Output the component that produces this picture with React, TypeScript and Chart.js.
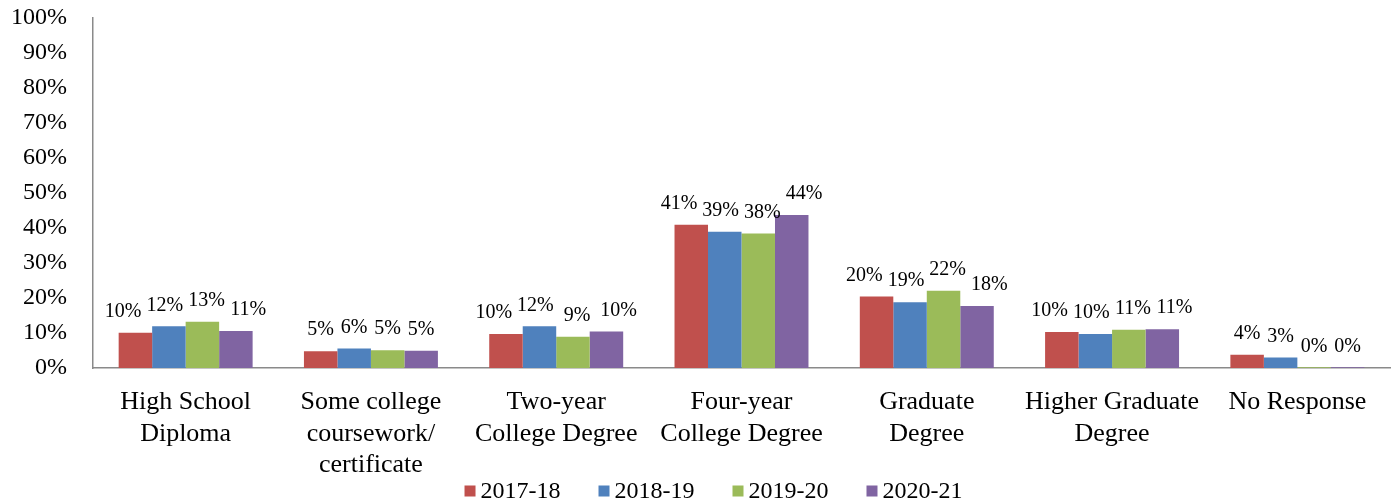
import React, { useEffect, useRef } from "react";
import { Chart, registerables } from "chart.js";

Chart.register(...registerables);

const categories: string[][] = [
  ["High School", "Diploma"],
  ["Some college", "coursework/", "certificate"],
  ["Two-year", "College Degree"],
  ["Four-year", "College Degree"],
  ["Graduate", "Degree"],
  ["Higher Graduate", "Degree"],
  ["No Response"],
];

const seriesNames = ["2017-18", "2018-19", "2019-20", "2020-21"];
const seriesColors = ["#C0504D", "#4F81BD", "#9BBB59", "#8064A2"];

const values2017_18 = [10.1, 4.8, 9.7, 40.9, 20.4, 10.3, 3.8];
const values2018_19 = [11.9, 5.6, 11.9, 38.9, 18.8, 9.7, 3.0];
const values2019_20 = [13.2, 5.1, 8.9, 38.4, 22.1, 10.9, 0.2];
const values2020_21 = [10.6, 4.9, 10.4, 43.7, 17.7, 11.1, 0.2];

const yTicks = [0, 10, 20, 30, 40, 50, 60, 70, 80, 90, 100];

const FONT = '"Liberation Serif", "Times New Roman", serif';

const dataLabelPlugin = {
  id: "groupDataLabels",
  afterDatasetsDraw(chart: any) {
    const ctx = chart.ctx;
    ctx.save();
    ctx.font = `20px ${FONT}`;
    ctx.fillStyle = "#000";
    ctx.textAlign = "center";
    ctx.textBaseline = "middle";
    const n = chart.data.labels.length;
    const dsCount = chart.data.datasets.length;
    for (let i = 0; i < n; i++) {
      const bars: any[] = [];
      const texts: string[] = [];
      for (let d = 0; d < dsCount; d++) {
        const meta = chart.getDatasetMeta(d);
        bars.push(meta.data[i]);
        texts.push(Math.round(chart.data.datasets[d].data[i]) + "%");
      }
      const maxW = Math.max(...texts.map((t) => ctx.measureText(t).width));
      const barSpacing = bars.length > 1 ? bars[1].x - bars[0].x : 0;
      const spacing = Math.max(barSpacing, maxW + 5);
      const center = bars.reduce((s, b) => s + b.x, 0) / bars.length;
      bars.forEach((b, k) => {
        const x = center + (k - (bars.length - 1) / 2) * spacing;
        ctx.fillText(texts[k], x, b.y - 21);
      });
    }
    ctx.restore();
  },
};

const legendPlugin = {
  id: "customLegend",
  afterDraw(chart: any) {
    const ctx = chart.ctx;
    ctx.save();
    ctx.font = `24px ${FONT}`;
    ctx.textBaseline = "middle";
    ctx.textAlign = "left";
    const box = 11;
    const gapText = 5;
    const gapItem = 38;
    const widths = chart.data.datasets.map(
      (ds: any) => box + gapText + ctx.measureText(ds.label).width
    );
    const total =
      widths.reduce((a: number, b: number) => a + b, 0) + gapItem * (widths.length - 1);
    let x = (chart.width - total) / 2 + 14;
    const yMid = 491;
    chart.data.datasets.forEach((ds: any, k: number) => {
      ctx.fillStyle = ds.backgroundColor;
      ctx.fillRect(x, yMid - box / 2, box, box);
      ctx.fillStyle = "#000";
      ctx.fillText(ds.label, x + box + gapText, yMid + 1);
      x += widths[k] + gapItem;
    });
    ctx.restore();
  },
};

export default function App() {
  const ref = useRef<HTMLCanvasElement | null>(null);

  useEffect(() => {
    document.body.style.margin = "0";
    document.body.style.overflow = "hidden";
    if (!ref.current) return;
    const allValues = [values2017_18, values2018_19, values2019_20, values2020_21];
    const chart = new Chart(ref.current, {
      type: "bar",
      data: {
        labels: categories,
        datasets: seriesNames.map((name, k) => ({
          label: name,
          data: allValues[k],
          backgroundColor: seriesColors[k],
          borderWidth: 0,
          categoryPercentage: 0.723,
          barPercentage: 1,
        })),
      },
      options: {
        animation: false,
        responsive: true,
        maintainAspectRatio: false,
        layout: { padding: { top: 18, right: 9, bottom: 0, left: 0 } },
        plugins: {
          legend: { display: false },
          tooltip: { enabled: false },
          title: { display: false },
        },
        scales: {
          x: {
            grid: { display: false, drawTicks: false },
            border: { display: true, color: "#8A8A8A", width: 1.5 },
            ticks: {
              autoSkip: false,
              maxRotation: 0,
              minRotation: 0,
              color: "#000",
              padding: 19,
              font: { family: FONT, size: 26, lineHeight: 1.2 },
            },
            afterFit: (scale: any) => {
              scale.height = 134;
              scale.paddingLeft = 0;
              scale.paddingRight = 0;
            },
          },
          y: {
            min: 0,
            max: 100,
            afterBuildTicks: (scale: any) => {
              scale.ticks = yTicks.map((v) => ({ value: v }));
            },
            grid: { display: false, drawTicks: false },
            border: { display: true, color: "#8A8A8A", width: 1.5 },
            ticks: {
              color: "#000",
              padding: 26,
              font: { family: FONT, size: 24 },
              callback: (v: any) => `${v}%`,
            },
            afterFit: (scale: any) => {
              scale.width = 93;
              scale.paddingTop = 0;
              scale.paddingBottom = 0;
            },
          },
        },
      },
      plugins: [dataLabelPlugin, legendPlugin],
    });
    return () => chart.destroy();
  }, []);

  return (
    <div style={{ position: "relative", width: "1399px", height: "502px" }}>
      <canvas ref={ref} style={{ display: "block" }} />
    </div>
  );
}
